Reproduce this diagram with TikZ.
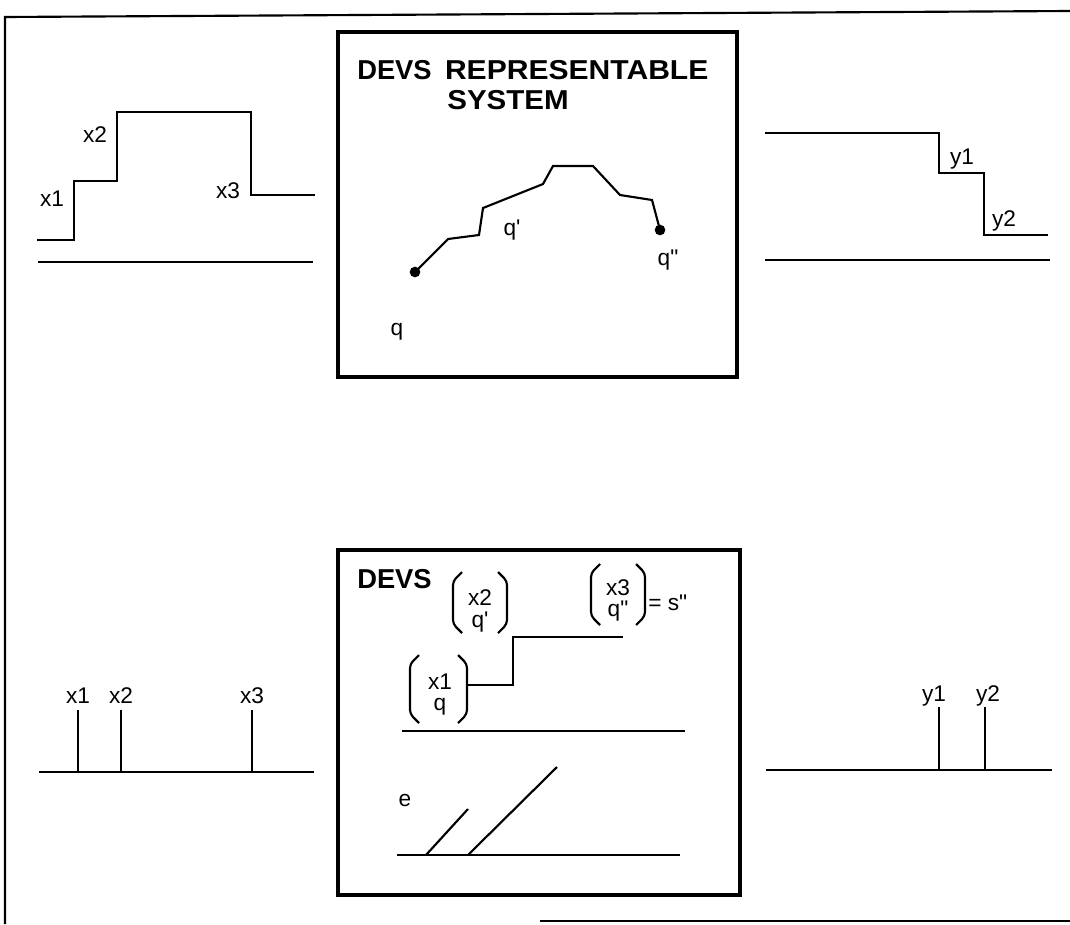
\documentclass[tikz,border=0pt]{standalone}
\usepackage{fontspec}
\setmainfont{Liberation Sans}
\begin{document}
\begin{tikzpicture}[x=0.75pt,y=-0.75pt,
  lbl/.style={font=\fontsize{17}{20}\selectfont, inner sep=0pt},
  ttl/.style={font=\fontsize{20.5}{24}\selectfont\bfseries, inner sep=0pt},
  sig/.style={line width=1.6pt, line join=miter},
  base/.style={line width=2.1pt},
  box/.style={line width=2.8pt},
  frame/.style={line width=1.6pt},
  dot/.style={circle, fill=black, inner sep=0pt, minimum size=8pt}]
\useasboundingbox (0,0) rectangle (1070,924);
% outer frame
\draw[frame] (5,924) -- (5,17) -- (1070,11);
\draw[frame] (540,921) -- (1070,921);

% ---------- upper row ----------
% input trajectory
\draw[sig] (37,240) -- (74,240) -- (74,181) -- (117,181) -- (117,112) -- (251,112) -- (251,195) -- (315,195);
\draw[base] (38,262) -- (313,262);
\node[lbl] (ux1) at (52,199) {x1};
\node[lbl] (ux2) at (95,135) {x2};
\node[lbl] (ux3) at (228,191) {x3};

% upper box
\draw[box] (338,32) rectangle (737,377);
\node[ttl, anchor=west] (t1) at (357,70) {DEVS\hspace{10pt}\scalebox{1.1}[1]{REPRESENTABLE}};
\node[ttl] (t2) at (508,100) {\scalebox{1.08}[1]{SYSTEM}};
\node[dot] (q0) at (415,272) {};
\node[dot] (q2) at (660,230) {};
\draw[sig] (q0.center) -- (448,239) -- (479,235) -- (483,208) -- (543,184) -- (553,166) -- (593,166) -- (620,195) -- (652,200) -- (q2.center);
\node[lbl] (lq1) at (512,230) {q\textquotesingle};
\node[lbl] (lq2) at (668,260) {q\textquotedbl};
\node[lbl] (lq0) at (397,332) {q};

% output trajectory
\draw[sig] (765,133) -- (939,133) -- (939,173) -- (984,173) -- (984,235) -- (1048,235);
\draw[base] (765,260) -- (1050,260);
\node[lbl] (uy1) at (962,159) {y1};
\node[lbl] (uy2) at (1004,221) {y2};

% ---------- lower row ----------
\draw[base] (39,772) -- (314,772);
\draw[sig] (78,772) -- (78,710);
\draw[sig] (121,772) -- (121,710);
\draw[sig] (252,772) -- (252,710);
\node[lbl] (lx1) at (78,696) {x1};
\node[lbl] (lx2) at (121,696) {x2};
\node[lbl] (lx3) at (252,696) {x3};

\draw[base] (766,770) -- (1052,770);
\draw[sig] (939,770) -- (939,707);
\draw[sig] (985,770) -- (985,707);
\node[lbl] (ly1) at (934,696) {y1};
\node[lbl] (ly2) at (988,696) {y2};

% lower box
\draw[box] (338,550) rectangle (740,895);
\node[ttl, anchor=west] (d) at (357,579) {DEVS};

% bracket vectors
\newcommand{\vecbr}[4]{% left x, right x, top y, bottom y
  \draw[sig, line join=round, rounded corners=3pt] (#1+9,#3) -- (#1,#3+9) -- (#1,#4-9) -- (#1+9,#4);
  \draw[sig, line join=round, rounded corners=3pt] (#2-9,#3) -- (#2,#3+9) -- (#2,#4-9) -- (#2-9,#4);}
\vecbr{453}{507}{572}{633}
\node[lbl] (v2a) at (480,598) {x2};
\node[lbl] (v2b) at (480,622) {q\textquotesingle};
\vecbr{591}{645}{564}{625}
\node[lbl] (v3a) at (618,588) {x3};
\node[lbl] (v3b) at (618,611) {q\textquotedbl};
\node[lbl, anchor=west] (s2) at (648,603) {= s\textquotedbl};
\vecbr{410}{467}{655}{723}
\node[lbl] (v1a) at (440,682) {x1};
\node[lbl] (v1b) at (440,707) {q};

\draw[sig] (467,685) -- (513,685) -- (513,637) -- (623,637);
\draw[base] (402,731) -- (685,731);

\node[lbl] (le) at (405,801) {e};
\draw[base] (397,855) -- (680,855);
\draw[sig] (426,855) -- (468,809);
\draw[sig] (468,855) -- (557,767);
\end{tikzpicture}
\end{document}
